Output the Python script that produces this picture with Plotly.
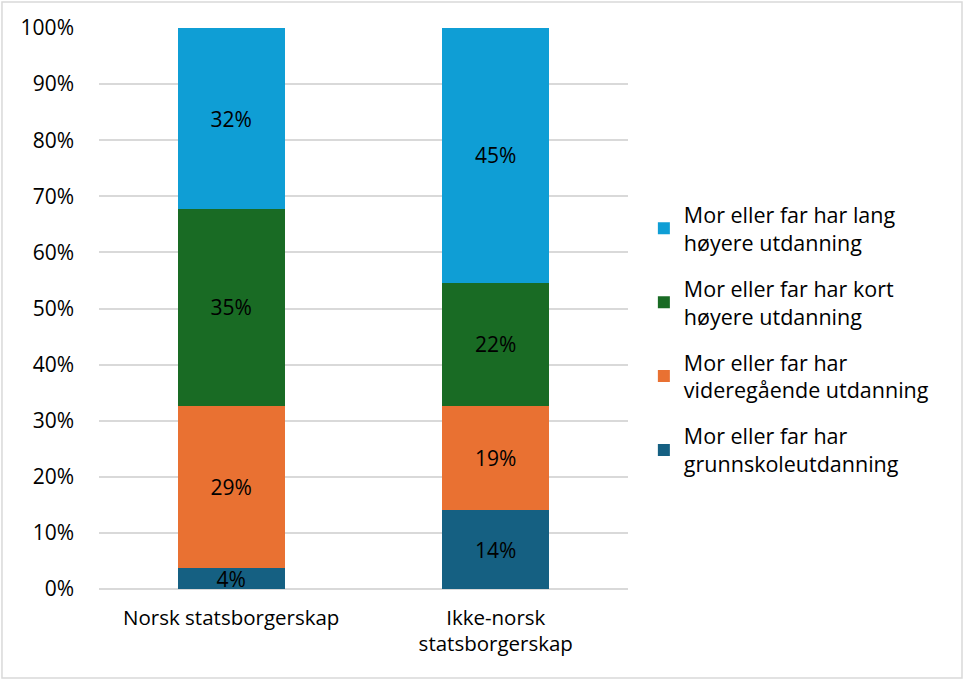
import plotly.graph_objects as go

categories = ["Norsk statsborgerskap", "Ikke-norsk<br>statsborgerskap"]
series_names = [
    "Mor eller far har<br>grunnskoleutdanning",
    "Mor eller far har<br>videregående utdanning",
    "Mor eller far har kort<br>høyere utdanning",
    "Mor eller far har lang<br>høyere utdanning",
]
grunnskole = [3.7, 14.0]
videregaende = [29.0, 18.6]
kort_hoyere = [35.0, 22.0]
lang_hoyere = [32.3, 45.4]
colors = ["#156082", "#E97132", "#196B24", "#0F9ED5"]
y_ticks = [0, 10, 20, 30, 40, 50, 60, 70, 80, 90, 100]
y_ticklabels = [f"{v}%" for v in y_ticks]

FONT = "Open Sans"
fig = go.Figure()
series = [grunnskole, videregaende, kort_hoyere, lang_hoyere]
for i, (name, vals, col) in enumerate(zip(series_names, series, colors)):
    fig.add_trace(go.Bar(
        x=categories, y=vals, name=name, marker=dict(color=col, line=dict(width=0)),
        texttemplate="%{y:.0f}%", textposition="inside", insidetextanchor="middle",
        constraintext="none", textfont=dict(color="black", size=21, family=FONT),
        legendgroup=name, legendrank=len(series) - i,
    ))

fig.update_layout(
    barmode="stack", bargap=0.595,
    width=964, height=681,
    margin=dict(l=99, r=336, t=28, b=92),
    plot_bgcolor="white", paper_bgcolor="white",
    font=dict(family=FONT, size=20, color="black"),
    legend=dict(traceorder="grouped", tracegroupgap=15, x=1.03, xanchor="left",
                y=0.445, yanchor="middle", font=dict(size=21.5, family=FONT)),
    xaxis=dict(showline=False, ticks="", tickfont=dict(size=20.5), ticklabelstandoff=14),
    yaxis=dict(range=[0, 100], tickvals=y_ticks, ticktext=y_ticklabels, showgrid=True,
               gridcolor="#D9D9D9", gridwidth=1.5, zeroline=True, zerolinecolor="#D9D9D9",
               zerolinewidth=1.5, ticks="", tickfont=dict(size=21), ticklabelstandoff=24),
    shapes=[dict(type="rect", xref="paper", yref="paper", x0=-0.1834, x1=1.6314,
                 y0=-0.1586, y1=1.0463, line=dict(color="#D9D9D9", width=1.5), layer="below")],
)
fig.write_html("out.html", config={"displayModeBar": False},
               post_script="document.body.style.margin='0';")
